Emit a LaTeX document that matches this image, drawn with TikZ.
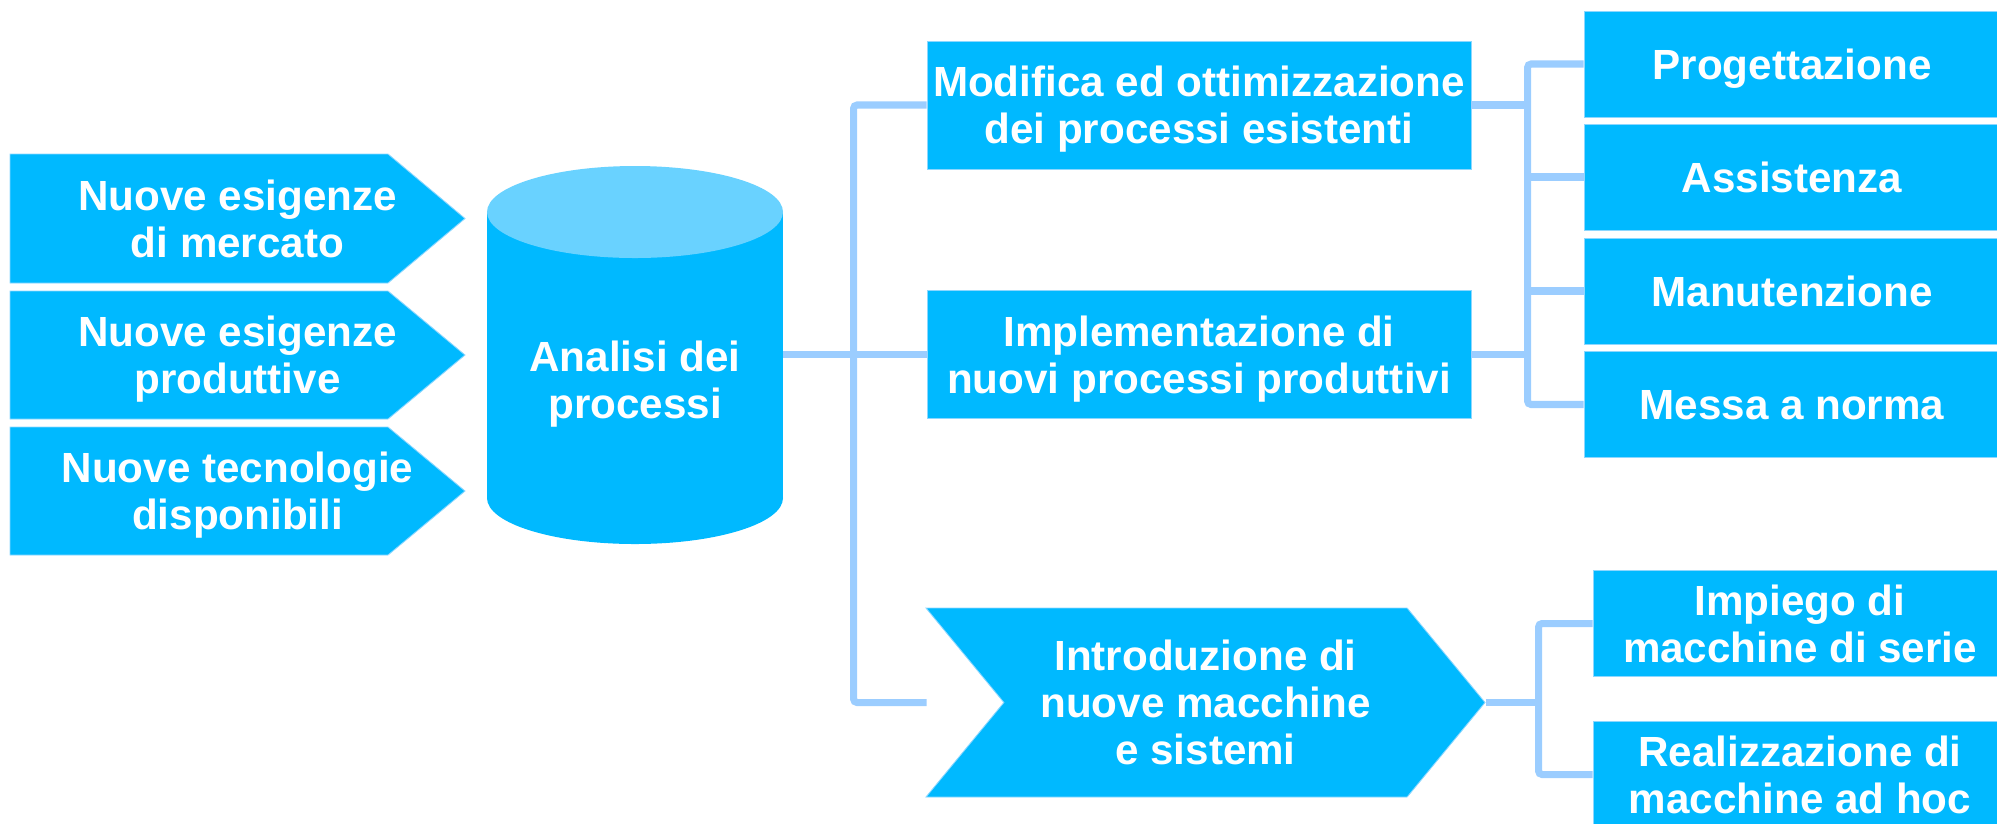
\documentclass[tikz,border=0pt]{standalone}
\usepackage{fontspec}
\setmainfont{Liberation Sans}
\usetikzlibrary{shapes.symbols}

\definecolor{boxblue}{RGB}{0,185,255}
\definecolor{topblue}{RGB}{105,210,255}
\definecolor{linkblue}{RGB}{155,205,255}
\definecolor{rimblue}{RGB}{140,215,255}

\begin{document}
\begin{tikzpicture}[x=0.2mm, y=-0.2mm]

	\tikzset{boxtext/.style = {text=white, align=center, inner sep=2pt, text depth=0pt, font=\fontsize{24}{26.8}\selectfont\bfseries}}
	\tikzset{basebox/.style = {boxtext, fill=boxblue, draw=rimblue, line width=0.5pt}}
	\tikzset{procbox/.style = {basebox, rectangle, minimum width=108.8mm, minimum height=25.6mm}}
	\tikzset{macbox/.style = {basebox, shape=signal, signal to=east, signal from=west, signal pointer angle=101, minimum width=111.8mm, minimum height=37.8mm}}
	\tikzset{outbox/.style = {basebox, rectangle, minimum width=83.2mm, minimum height=21.2mm}}
	\tikzset{cyltext/.style = {boxtext, rectangle, inner sep=0pt, minimum width=59.2mm}}
	\tikzset{inshape/.style = {fill=boxblue, draw=rimblue, line width=0.5pt}}
	\tikzset{link/.style = {draw=linkblue, line width=4pt, rounded corners=2pt}}

	\useasboundingbox (0,0) rectangle (1997,823);
	\clip (0,0) rectangle (1997,823);

	% ingressi
	\filldraw[inshape] (10,154) -- (388,154) -- (465,218.5) -- (388,283) -- (10,283) -- cycle;
	\filldraw[inshape] (10,291) -- (388,291) -- (465,355) -- (388,419) -- (10,419) -- cycle;
	\filldraw[inshape] (10,427) -- (388,427) -- (465,491) -- (388,555) -- (10,555) -- cycle;
	\node[boxtext] (mercato) at (237.5,218.5) {Nuove esigenze\\di mercato};
	\node[boxtext] (produttive) at (237.5,355) {Nuove esigenze\\produttive};
	\node[boxtext] (tecnologie) at (237.5,491) {Nuove tecnologie\\disponibili};

	% cilindro
	\fill[boxblue] (635,498) ellipse [x radius=148, y radius=46];
	\fill[boxblue] (487,212) rectangle (783,498);
	\fill[topblue] (635,212) ellipse [x radius=148, y radius=46];
	\node[cyltext] (analisi) at (635,380) {Analisi dei\\processi};

	% processi
	\node[procbox] (modifica) at (1199,105) {Modifica ed ottimizzazione\\dei processi esistenti};
	\node[procbox] (implementa) at (1199,354.5) {Implementazione di\\nuovi processi produttivi};
	\node[macbox] (introduzione) at (1205.5,702.5) {Introduzione di\\nuove macchine\\e sistemi};

	% uscite
	\node[outbox] (progetta) at (1792,64) {Progettazione};
	\node[outbox] (assist) at (1792,177) {Assistenza};
	\node[outbox] (manut) at (1792,291) {Manutenzione};
	\node[outbox] (norma) at (1792,404.5) {Messa a norma};
	\node[outbox, minimum width=82.8mm] (impiego) at (1800,623.5) {Impiego di\\macchine di serie};
	\node[outbox, minimum width=82.8mm] (adhoc) at (1800,774.5) {Realizzazione di\\macchine ad hoc};

	% collegamenti
	\draw[link] (analisi.east |- implementa.west) -- (implementa.west);
	\draw[link] (modifica.west) -- ++(-73,0) |- (modifica.west |- introduzione.center);
	\draw[link] (modifica.east) -- ++(57,0);
	\draw[link] (implementa.east) -- ++(57,0);
	\draw[link] (progetta.west) -- ++(-56,0) |- (norma.west);
	\draw[link] (assist.west) -- ++(-56,0);
	\draw[link] (manut.west) -- ++(-56,0);
	\draw[link] (introduzione.east) -- ++(54,0);
	\draw[link] (impiego.west) -- ++(-54,0) |- (adhoc.west);
\end{tikzpicture}
\end{document}
